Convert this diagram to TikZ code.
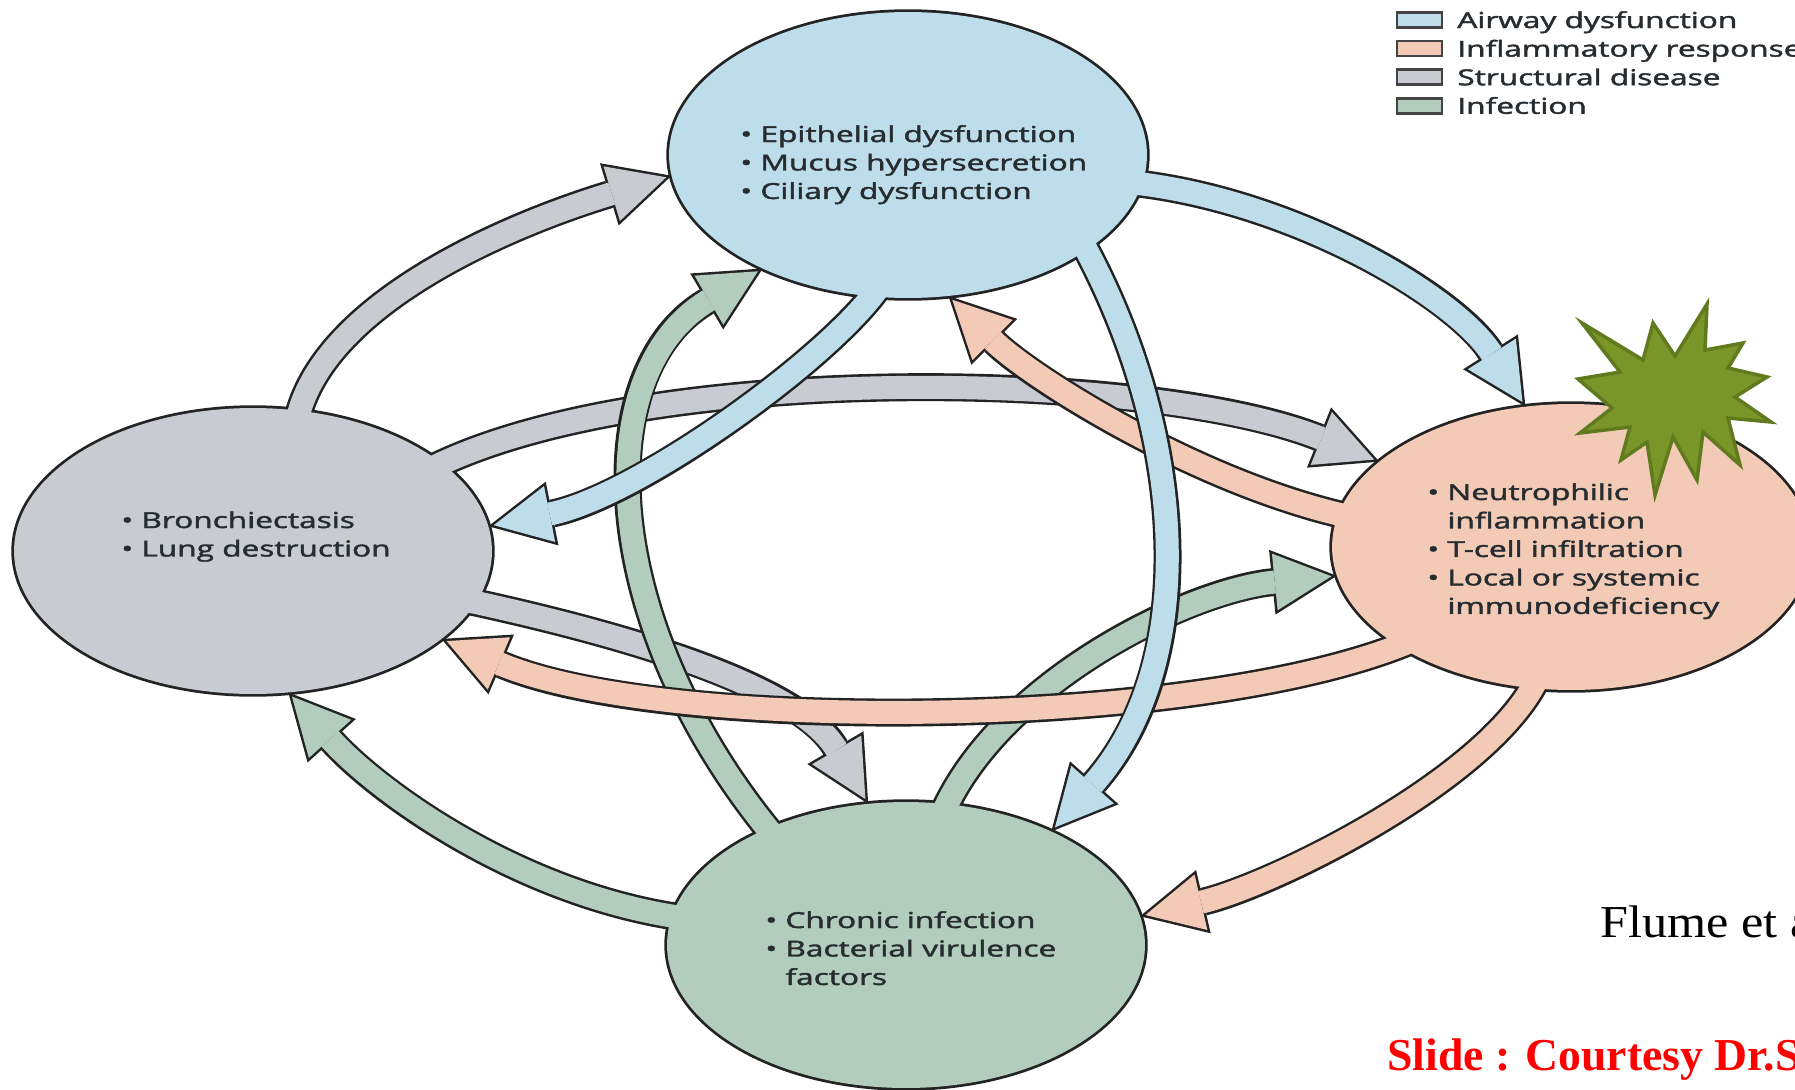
\documentclass[tikz,border=0pt]{standalone}
\usepackage{fontspec}
\setmainfont{Liberation Serif}
\newfontfamily\boxfont[FakeBold=1.6]{Open Sans}
\usepackage{graphicx}
\usetikzlibrary{shapes.geometric,arrows.meta}

\definecolor{airblue}{RGB}{188,221,233}
\definecolor{inflsalmon}{RGB}{242,202,182}
\definecolor{structgray}{RGB}{200,203,210}
\definecolor{infecgreen}{RGB}{178,205,189}
\definecolor{outline}{RGB}{35,35,35}
\definecolor{textdark}{RGB}{38,44,48}
\definecolor{stargreen}{RGB}{122,150,40}
\definecolor{staredge}{RGB}{96,122,30}

\newcommand{\widetext}[1]{\scalebox{1.44}[1]{#1}}
\newcommand{\ovalfill}[2]{\fill[#1] (#2.center) ellipse [x radius=4.78cm, y radius=2.86cm];}
\newcommand{\blockarrow}[2]{\draw[arrowedge] #2; \draw[arrowbody, draw=#1] #2;}

\tikzset{
  oval/.style={ellipse, draw=outline, line width=0.11cm, minimum width=9.56cm, minimum height=5.72cm, inner sep=0pt, outer sep=0pt},
  arrowedge/.style={draw=outline, line width=0.56cm, shorten <=-0.3cm, -{Triangle[length=1.3cm, width=1.3cm, line width=0pt]}},
  arrowbody/.style={line width=0.46cm, shorten <=-0.3cm, shorten >=0.11cm, -{Triangle[length=1.14cm, width=1.14cm, line width=0pt]}},
  bullets/.style={anchor=base west, inner sep=0pt, text=textdark, font=\boxfont\fontsize{12.5}{16.2}\selectfont},
  legbox/.style={draw=outline!85, line width=0.05cm, minimum width=0.9cm, minimum height=0.3cm, inner sep=0pt, outer sep=0pt},
}

\begin{document}
\begin{tikzpicture}[x=0.02cm, y=-0.02cm]
\useasboundingbox (0,0) rectangle (1795,1089);
\clip (0,0) rectangle (1795,1089);
\fill[white] (0,0) rectangle (1795,1089);

\node[oval] (air) at (908,155) {};
\node[oval] (struct) at (253,551) {};
\node[oval] (infl) at (1571,547) {};
\node[oval] (infec) at (906,945) {};

% structural disease
\blockarrow{structgray}{(struct.72) .. controls +(20,-110) and +(-150,45) .. (air.185)}
\blockarrow{structgray}{(struct.25) .. controls +(200,-102) and +(-230,-92) .. (infl.156)}
\blockarrow{structgray}{(struct.-13) .. controls +(140,30) and +(-70,-120) .. (infec.105)}
\ovalfill{structgray}{struct}

% infection
\blockarrow{infecgreen}{(infec.173) .. controls +(-150,-20) and +(90,100) .. (struct.-76)}
\blockarrow{infecgreen}{(infec.140) .. controls +(-171,-204) and +(-175,103) .. (air.218)}
\blockarrow{infecgreen}{(infec.74) .. controls +(50,-120) and +(-150,15) .. (infl.187)}
\ovalfill{infecgreen}{infec}

% inflammatory response
\blockarrow{inflsalmon}{(infl.172) .. controls +(-140,-30) and +(80,80) .. (air.-74)}
\blockarrow{inflsalmon}{(infl.210) .. controls +(-200,85) and +(220,94) .. (struct.-25)}
\blockarrow{inflsalmon}{(infl.255) .. controls +(-40,90) and +(130,-30) .. (infec.7)}
\ovalfill{inflsalmon}{infl}

% airway dysfunction
\blockarrow{airblue}{(air.256) .. controls +(-40,60) and +(150,-30) .. (struct.6)}
\blockarrow{airblue}{(air.-7) .. controls +(150,15) and +(-70,-110) .. (infl.108)}
\blockarrow{airblue}{(air.-28) .. controls +(100,180) and +(150,-170) .. (infec.38)}
\ovalfill{airblue}{air}

\node[bullets] (airtext) at (740,142) {\widetext{\begin{tabular}[t]{@{}l@{\ }l@{}}
  • & Epithelial dysfunction\\ • & Mucus hypersecretion\\ • & Ciliary dysfunction\end{tabular}}};
\node[bullets] (structtext) at (121,528) {\widetext{\begin{tabular}[t]{@{}l@{\ }l@{}}
  • & Bronchiectasis\\ • & Lung destruction\end{tabular}}};
\node[bullets] (infltext) at (1427,500) {\widetext{\begin{tabular}[t]{@{}l@{\ }l@{}}
  • & Neutrophilic\\ & inflammation\\ • & T-cell infiltration\\ • & Local or systemic\\ & immunodeficiency\end{tabular}}};
\node[bullets] (infectext) at (765,928) {\widetext{\begin{tabular}[t]{@{}l@{\ }l@{}}
  • & Chronic infection\\ • & Bacterial virulence\\ & factors\end{tabular}}};

% legend
\foreach \col/\lab [count=\i] in {airblue/Airway dysfunction, inflsalmon/Inflammatory response,
    structgray/Structural disease, infecgreen/Infection} {
  \node[legbox, fill=\col] (box\i) at (1419.5,{20+28.6*(\i-1)}) {};
  \node[bullets] (leg\i) at (1457,{28+28.6*(\i-1)}) {\widetext{\lab}};
}

% star
\draw[fill=stargreen, draw=staredge, line width=0.07cm] (1582,323) -- (1643,360) -- (1653,323)
  -- (1675,356) -- (1707,304) -- (1705,350) -- (1743,343) -- (1728,368) -- (1767,377)
  -- (1735,397) -- (1771,422) -- (1728,418) -- (1740,465) -- (1703,432) -- (1697,480)
  -- (1673,437) -- (1655,495) -- (1647,442) -- (1621,460) -- (1630,427) -- (1580,433)
  -- (1612,408) -- (1578,379) -- (1620,372) -- cycle;

\node[anchor=base west, inner sep=0pt, font=\fontsize{26}{30}\selectfont] (source) at (1600,937) {\scalebox{1.1}[1]{Flume et al}};
\node[anchor=base west, inner sep=0pt, text=red, font=\bfseries\fontsize{26}{30}\selectfont] (credit) at (1387,1070) {Slide : Courtesy Dr.S};
\end{tikzpicture}
\end{document}
